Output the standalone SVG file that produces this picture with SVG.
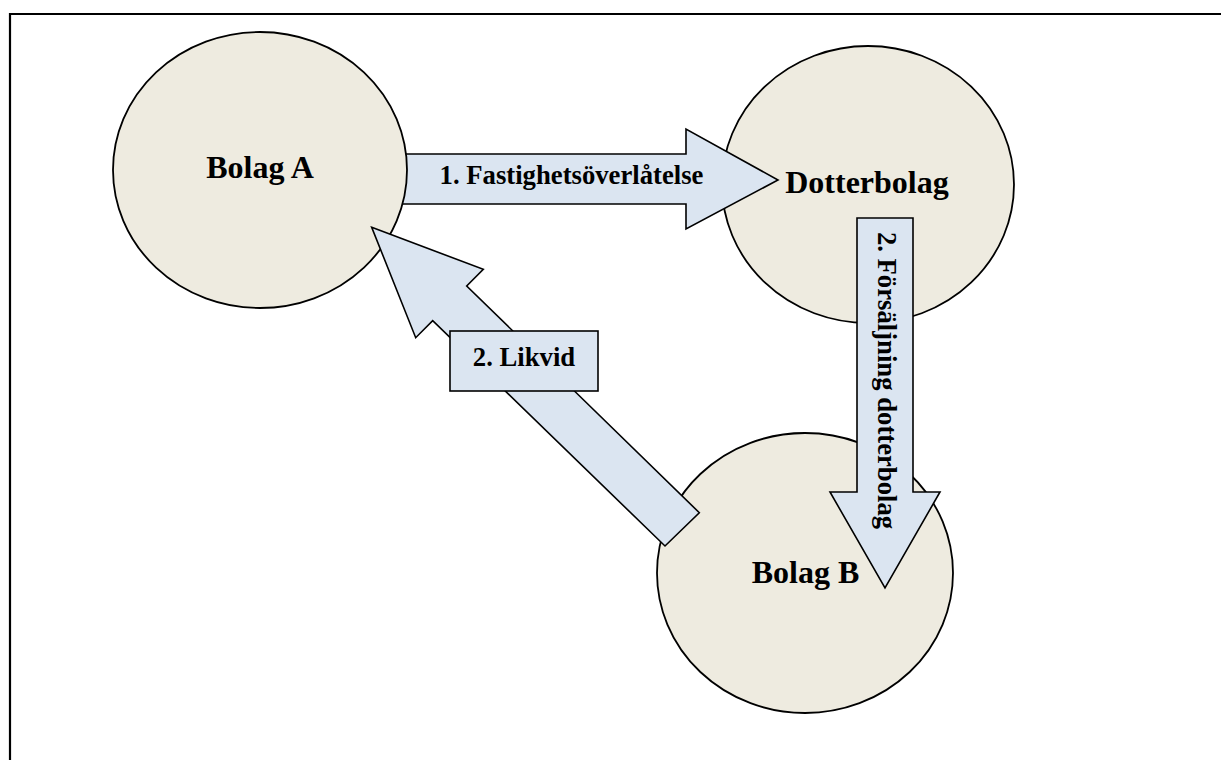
<svg xmlns="http://www.w3.org/2000/svg" width="1221" height="760" viewBox="0 0 1221 760">
<style>
.node{fill:#EEEBE0;stroke:#000;stroke-width:1.8}
.arrow{fill:#DBE5F1;stroke:#000;stroke-width:1.6;stroke-linejoin:miter}
.big{font-family:"Liberation Serif","Times New Roman",serif;font-weight:bold;font-size:32px;fill:#000}
.lbl{font-family:"Liberation Serif","Times New Roman",serif;font-weight:bold;font-size:26.7px;fill:#000}
</style>
<rect width="1221" height="760" fill="#fff"/>
<path d="M10,760 V14 H1221" fill="none" stroke="#000" stroke-width="2.2"/>
<g id="dotterbolag">
<ellipse class="node" cx="868" cy="184.5" rx="146" ry="138.5"/>
</g>
<g id="bolag-b">
<ellipse class="node" cx="805" cy="573" rx="148" ry="140"/>
</g>
<g id="connectors">
<g id="arrow-fastighet">
<polygon class="arrow" points="395,154 686,154 686,129 778,180 686,229 686,204 395,204"/>
</g>
</g>
<g id="bolag-a">
<ellipse class="node" cx="260" cy="170" rx="147" ry="138"/>
<text class="big" x="260" y="178" text-anchor="middle">Bolag A</text>
</g>
<g id="connectors2">
<g id="arrow-likvid">
<polygon class="arrow" points="371.7,227.3 483.3,269.3 466.7,286 699.3,512.7 665,546 432.7,320.7 415.7,337.7"/>
</g>
<g id="arrow-forsaljning">
<polygon class="arrow" points="857,218 913,218 913,492 940,492 885,588 830,492 857,492"/>
</g>
</g>
<text class="big" x="867" y="193" text-anchor="middle">Dotterbolag</text>
<text class="big" x="805.5" y="583" text-anchor="middle">Bolag B</text>
<text class="lbl" x="571.5" y="184" text-anchor="middle">1. Fastighetsöverlåtelse</text>
<text class="lbl" transform="translate(878,380.5) rotate(90)" text-anchor="middle">2. Försäljning dotterbolag</text>
<g id="likvid-label">
<rect class="arrow" x="450" y="331" width="148" height="60"/>
<text class="lbl" x="524" y="366" text-anchor="middle">2. Likvid</text>
</g>
</svg>
